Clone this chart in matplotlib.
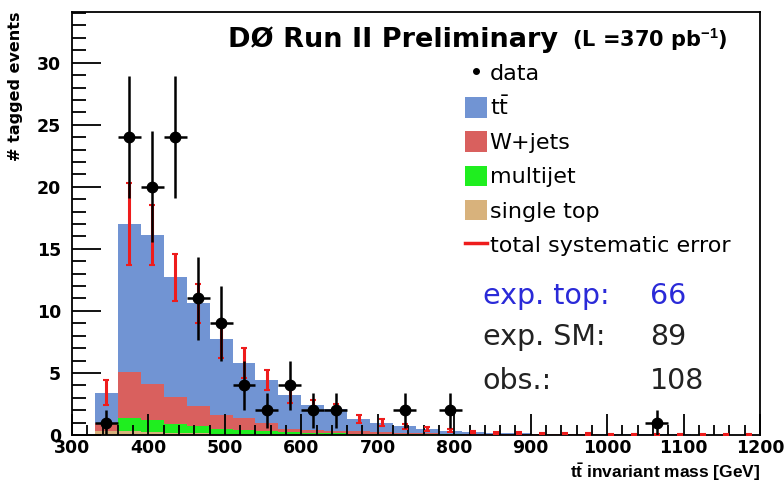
import numpy as np
import matplotlib
matplotlib.use("Agg")
import matplotlib.pyplot as plt
from matplotlib.patches import Patch
from matplotlib.lines import Line2D
from matplotlib.ticker import MultipleLocator

plt.rcParams['font.family'] = ['DejaVu Sans']
plt.rcParams['mathtext.fontset'] = 'custom'
plt.rcParams['mathtext.rm'] = 'DejaVu Sans'
plt.rcParams['mathtext.it'] = 'DejaVu Sans'
plt.rcParams['mathtext.bf'] = 'Liberation Sans:bold'
plt.rcParams['mathtext.default'] = 'regular'

# 30 GeV bins from 330 to 1200 GeV
edges = np.arange(330, 1201, 30)
centers = 0.5 * (edges[:-1] + edges[1:])

# stacked expectations per bin (events)
single_top = [0.3, 0.3, 0.25, 0.2, 0.15, 0.12, 0.1, 0.08, 0.06, 0.05, 0.04, 0.03, 0.03, 0.02, 0.02,
              0.02, 0.01, 0.01, 0.01, 0.01, 0.01, 0.01, 0.01, 0.0, 0.0, 0.0, 0.0, 0.0, 0.0]
multijet = [0.0, 1.05, 0.95, 0.7, 0.55, 0.38, 0.3, 0.25, 0.2, 0.15, 0.11, 0.09, 0.07, 0.06, 0.04,
            0.03, 0.03, 0.02, 0.02, 0.01, 0.01, 0.01, 0.01, 0.01, 0.01, 0.01, 0.01, 0.01, 0.01]
wjets = [0.7, 3.75, 2.9, 2.2, 1.6, 1.1, 0.95, 0.67, 0.24, 0.2, 0.2, 0.18, 0.15, 0.12, 0.09,
         0.07, 0.06, 0.05, 0.04, 0.04, 0.03, 0.03, 0.02, 0.03, 0.02, 0.02, 0.02, 0.01, 0.01]
ttbar = [2.4, 11.9, 12.0, 9.6, 8.3, 6.1, 4.45, 3.4, 2.7, 2.0, 1.75, 1.0, 0.75, 0.5, 0.35,
         0.23, 0.15, 0.12, 0.08, 0.06, 0.05, 0.03, 0.03, 0.02, 0.02, 0.02, 0.01, 0.02, 0.01]
# total systematic uncertainty on the summed expectation
sys_err = [1.0, 3.3, 2.4, 1.9, 1.6, 1.5, 1.2, 0.8, 0.6, 0.45, 0.4, 0.3, 0.25, 0.2, 0.15,
           0.12, 0.1, 0.08, 0.07, 0.06, 0.05, 0.05, 0.04, 0.04, 0.03, 0.03, 0.03, 0.02, 0.02]
# observed events per bin
data = [1, 24, 20, 24, 11, 9, 4, 2, 4, 2, 2, 0, 0, 2, 0,
        2, 0, 0, 0, 0, 0, 0, 0, 0, 1, 0, 0, 0, 0]

components = [
    (single_top, '#d8b27c', 'single top'),
    (multijet, '#1fee1f', 'multijet'),
    (wjets, '#d9605e', 'W+jets'),
    (ttbar, '#7194d3', r'$t\bar{t}$'),
]

fig = plt.figure(figsize=(7.84, 4.82), dpi=100)
ax = fig.add_axes([0.0918, 0.0975, 0.8776, 0.878])

base = np.zeros(len(centers))
for vals, col, _ in components:
    vals = np.asarray(vals, dtype=float)
    ax.stairs(base + vals, edges, baseline=base, fill=True, color=col, lw=0)
    base = base + vals
total = base

ax.errorbar(centers, total, yerr=sys_err, fmt='none', ecolor='#ee1c1c',
            elinewidth=2.2, capsize=2, capthick=1.5, zorder=3)

data = np.asarray(data, dtype=float)
sel = data > 0
ax.errorbar(centers[sel], data[sel], xerr=15, yerr=np.sqrt(data[sel]), fmt='o',
            color='black', ms=7.5, elinewidth=1.8, capsize=0, zorder=4)

ax.set_xlim(300, 1200)
ax.set_ylim(0, 34.1)
ax.xaxis.set_major_locator(MultipleLocator(100))
ax.xaxis.set_minor_locator(MultipleLocator(20))
ax.yaxis.set_major_locator(MultipleLocator(5))
ax.yaxis.set_minor_locator(MultipleLocator(1))
ax.tick_params(which='both', direction='in', top=False, right=False, width=1.3)
ax.tick_params(axis='y', which='major', length=21, pad=8)
ax.tick_params(axis='y', which='minor', length=10)
ax.tick_params(axis='x', which='major', length=15, pad=3)
ax.tick_params(axis='x', which='minor', length=7)
for lab in ax.get_xticklabels() + ax.get_yticklabels():
    lab.set_fontsize(12.5)
    lab.set_fontweight('bold')
for sp in ax.spines.values():
    sp.set_linewidth(1.3)

ax.set_ylabel('# tagged events', loc='top', fontsize=11.5, fontweight='bold', labelpad=10)
ax.set_xlabel(r'$\mathbf{t\bar{t}}$ invariant mass [GeV]', loc='right', fontsize=12.5,
              family='Liberation Sans', fontweight='bold', labelpad=3)

ax.text(0.227, 0.935, 'D\u00d8 Run II Preliminary', transform=ax.transAxes,
        fontsize=19.5, fontweight='bold', va='center', ha='left')
ax.text(0.727, 0.935, r'(L =370 pb$^{\mathbf{-1}}$)', transform=ax.transAxes,
        fontsize=15, fontweight='bold', va='center', ha='left')

handles = [Line2D([], [], ls='none', marker='o', ms=4, color='black')]
labels = ['data']
for vals, col, lab in components[::-1]:
    handles.append(Patch(facecolor=col, edgecolor='none'))
    labels.append(lab)
handles.append(Line2D([], [], color='#ee1c1c', lw=2.5))
labels.append('total systematic error')
ax.legend(handles, labels, loc='upper left', bbox_to_anchor=(0.571, 0.882),
          frameon=False, fontsize=16, handlelength=1.0, handleheight=1.05,
          handletextpad=0.12, labelspacing=0.55, borderaxespad=0, borderpad=0)

blue = '#2a2ad8'
grey = '#222222'
for ypos, name, num, col in [(0.328, 'exp. top:', '66', blue),
                             (0.231, 'exp. SM:', '89', grey),
                             (0.127, 'obs.:', '108', grey)]:
    ax.text(0.597, ypos, name, transform=ax.transAxes, fontsize=20.5,
            color=col, va='center')
    ax.text(0.84, ypos, num, transform=ax.transAxes, fontsize=20.5,
            color=col, va='center')

fig.savefig('out.png', dpi=100)
